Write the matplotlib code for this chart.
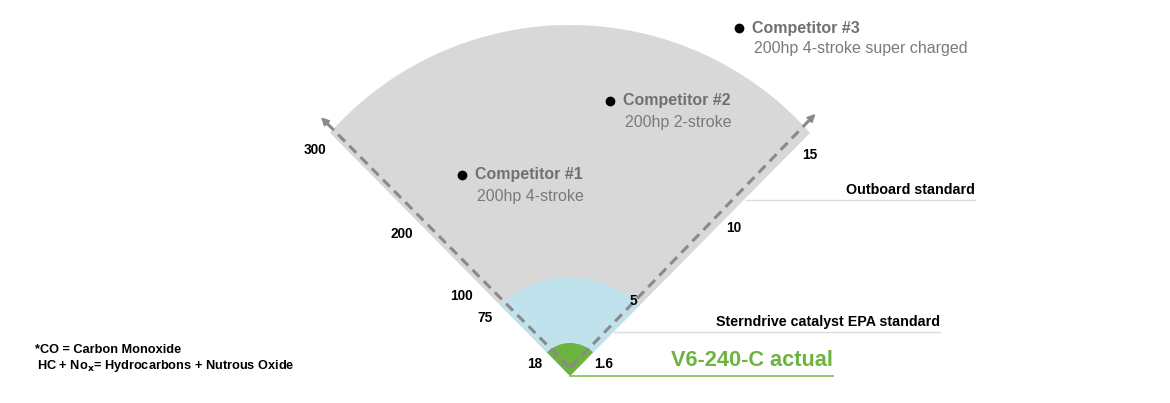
import matplotlib
matplotlib.use("Agg")
from matplotlib import pyplot as plt
from matplotlib.patches import Wedge, Polygon
import numpy as np

plt.rcParams["font.family"] = ["Liberation Sans", "DejaVu Sans"]

W, H = 1170, 403

# emission bands (outer ring first): CO limit / HC+NOx limit
band_co = [300, 75, 18]
band_hc = [15, 5, 1.6]
band_colors = ["#d9d8d8", "#bfe2ec", "#6db33f"]

co_ticks = ["300", "200", "100", "75", "18"]
hc_ticks = ["15", "10", "5", "1.6"]

competitors = ["Competitor #1", "Competitor #2", "Competitor #3"]
engines = ["200hp 4-stroke", "200hp 2-stroke", "200hp 4-stroke super charged"]

standards = ["Outboard standard", "Sterndrive catalyst EPA standard", "V6-240-C actual"]

# layout (pixel coords, y measured from top)
origin = (570, 376)
band_radius = [347, 99, 33]
co_tick_pos = [(315, 150), (402, 234), (461, 296), (485, 318), (535, 364)]
hc_tick_pos = [(810, 155), (734, 228), (633, 301), (604, 364)]
comp_pos = [(462, 175), (610, 101), (739, 28)]
std_y = [200, 332, 376]
std_x0 = [746, 614, 570]
std_x1 = [975, 940, 833]


def py(y):
    return H - y


fig = plt.figure(figsize=(W / 100, H / 100), dpi=100)
ax = fig.add_axes([0, 0, 1, 1])
ax.set_xlim(0, W)
ax.set_ylim(0, H)
ax.axis("off")

ox, oy = origin[0], py(origin[1])

# outer (grey) band: arc is flatter than a plain sector
t = np.radians(np.linspace(41.6, 138.4, 200))
arc_c, arc_r = py(346), 321
pts = [(ox, oy)] + list(zip(ox + arc_r * np.cos(t), arc_c + arc_r * np.sin(t)))
ax.add_patch(Polygon(pts, closed=True, facecolor=band_colors[0], edgecolor="none", zorder=1))
for r, c in zip(band_radius[1:], band_colors[1:]):
    ax.add_patch(Wedge((ox, oy), r, 45.7, 134.3, facecolor=c, edgecolor="none", zorder=1))

# dashed axes with arrow heads
L = 349
for x0, ang in ((571, 46.0), (569, 134.8)):
    y0 = py(367)
    dx, dy = np.cos(np.radians(ang)), np.sin(np.radians(ang))
    ax.plot([x0, x0 + dx * (L - 6)], [y0, y0 + dy * (L - 6)], color="#8a8a8a",
            lw=2.2, ls=(0, (3.2, 2.0)), zorder=3)
    ax.annotate("", xy=(x0 + dx * (L + 3), y0 + dy * (L + 3)),
                xytext=(x0 + dx * (L - 8), y0 + dy * (L - 8)),
                arrowprops=dict(arrowstyle="-|>", color="#8a8a8a", lw=1.5,
                                mutation_scale=11, shrinkA=0, shrinkB=0), zorder=3)

for lab, (x, y) in zip(co_ticks, co_tick_pos):
    ax.text(x, py(y), lab, ha="center", va="center", fontsize=9.8, fontweight="bold", color="black")
for lab, (x, y) in zip(hc_ticks, hc_tick_pos):
    ax.text(x, py(y), lab, ha="center", va="center", fontsize=9.8, fontweight="bold", color="black")

for name, eng, (x, y) in zip(competitors, engines, comp_pos):
    ax.plot(x, py(y), "o", color="black", ms=6, zorder=4)
    ax.text(x + 13, py(y), name, ha="left", va="center", fontsize=11.5, fontweight="bold", color="#707070")
    ax.text(x + 15, py(y + 21), eng, ha="left", va="center", fontsize=11.5, color="#7a7a7a")

# standard lines
for i, (name, y, x0, x1) in enumerate(zip(standards, std_y, std_x0, std_x1)):
    if i == 2:
        ax.plot([x0, x1], [py(y), py(y)], color="#7cbf52", lw=1.2, zorder=2)
        ax.text(x1, py(y - 16), name, ha="right", va="center", fontsize=15.7, fontweight="bold", color="#6db33f")
    else:
        ax.plot([x0, x1], [py(y), py(y)], color="#d3dfe5", lw=1.0, zorder=2)
        ax.text(x1, py(y - 10), name, ha="right", va="center", fontsize=10.3, fontweight="bold", color="black")

ax.text(35, py(350), "*CO = Carbon Monoxide", ha="left", va="center", fontsize=9.2, fontweight="bold")
ax.text(37, py(366), r"HC + No$_\mathbf{x}$= Hydrocarbons + Nutrous Oxide", ha="left", va="center",
        fontsize=9.2, fontweight="bold")

fig.savefig("out.png", dpi=100, facecolor="white")
